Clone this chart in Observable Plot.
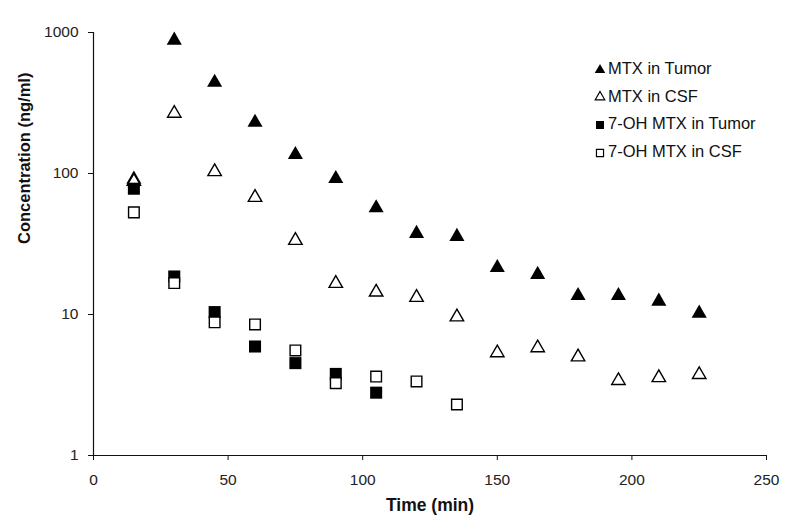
<!DOCTYPE html>
<html><head><meta charset="utf-8">
<script src="https://cdn.jsdelivr.net/npm/d3@7"></script>
<script src="https://cdn.jsdelivr.net/npm/@observablehq/plot@0.6"></script>
<style>
body{margin:0;background:#fff;}
#wrap{position:relative;width:800px;height:525px;font-family:"Liberation Sans",Arial,sans-serif;}
#legend{position:absolute;left:594px;top:55px;font-size:16.5px;color:#111;}
.item{display:flex;align-items:center;height:27.6px;}
.item svg{margin-right:2px;}
</style></head>
<body><div id="wrap"><div id="legend"></div></div>
<script>
// Data
const seriesNames = ["MTX in Tumor", "MTX in CSF", "7-OH MTX in Tumor", "7-OH MTX in CSF"];
const timesMTX = [15, 30, 45, 60, 75, 90, 105, 120, 135, 150, 165, 180, 195, 210, 225];
const mtxTumor = [91, 880, 442, 230, 136, 92, 57, 37.5, 35.7, 21.5, 19.2, 13.6, 13.6, 12.4, 10.2];
const mtxCSF = [88, 267, 103, 67.6, 33.5, 16.6, 14.4, 13.2, 9.6, 5.35, 5.8, 5.0, 3.4, 3.56, 3.75];
const times7OHTumor = [15, 30, 45, 60, 75, 90, 105];
const ohTumor = [78, 18.6, 10.4, 5.93, 4.52, 3.79, 2.79];
const times7OHCSF = [15, 30, 45, 60, 75, 90, 105, 120, 135];
const ohCSF = [53, 16.7, 8.8, 8.5, 5.56, 3.26, 3.63, 3.35, 2.3];
const xTicks = [0, 50, 100, 150, 200, 250];
const yTicks = [1, 10, 100, 1000];

const toRows = (ts, vs) => ts.map((t, i) => ({t, v: vs[i]}));
const dTumor = toRows(timesMTX, mtxTumor);
const dCSF = toRows(timesMTX, mtxCSF);
const dOHTumor = toRows(times7OHTumor, ohTumor);
const dOHCSF = toRows(times7OHCSF, ohCSF);

const font = '"Liberation Sans", Arial, sans-serif';
const chart = Plot.plot({
  width: 800, height: 525,
  marginLeft: 93, marginRight: 34, marginTop: 32, marginBottom: 70,
  style: {fontFamily: font, fontSize: "15.5px", background: "#fff", color: "#111"},
  x: {domain: [0, 250]},
  y: {type: "log", domain: [1, 1000]},
  marks: [
    Plot.axisX({ticks: xTicks, tickSize: 5, tickPadding: 13, tickFormat: d3.format("d"), label: null, fill: "#222"}),
    Plot.axisY({ticks: yTicks, tickSize: 5, tickPadding: 10, tickFormat: d3.format("d"), label: null, fill: "#222"}),
    Plot.ruleX([0], {stroke: "#111", strokeWidth: 1.2}),
    Plot.ruleY([1], {stroke: "#111", strokeWidth: 1.2}),
    Plot.dot(dTumor, {x: "t", y: "v", symbol: "triangle", r: 5.6, fill: "#000", stroke: "none"}),
    Plot.dot(dCSF, {x: "t", y: "v", symbol: "triangle", r: 5.0, fill: "#fff", stroke: "#000", strokeWidth: 1.4}),
    Plot.dot(dOHTumor, {x: "t", y: "v", symbol: "square", r: 6.8, fill: "#000", stroke: "none"}),
    Plot.dot(dOHCSF, {x: "t", y: "v", symbol: "square", r: 6.0, fill: "#fff", stroke: "#000", strokeWidth: 1.4}),
    Plot.text(["Time (min)"], {frameAnchor: "bottom", dy: 55, fontWeight: "bold", fontSize: 17.5, fill: "#111"}),
    Plot.text(["Concentration (ng/ml)"], {frameAnchor: "left", dx: -69, rotate: -90, fontWeight: "bold", fontSize: 16.5, fill: "#111"})
  ]
});
const wrap = document.getElementById("wrap");
wrap.insertBefore(chart, wrap.firstChild);

// Legend
const legendStyles = [
  {sym: d3.symbolTriangle, fill: "#000", stroke: "none", size: 48},
  {sym: d3.symbolTriangle, fill: "#fff", stroke: "#000", size: 40},
  {sym: d3.symbolSquare, fill: "#000", stroke: "none", size: 64},
  {sym: d3.symbolSquare, fill: "#fff", stroke: "#000", size: 50}
];
const legend = d3.select("#legend");
seriesNames.forEach((name, i) => {
  const s = legendStyles[i];
  const item = legend.append("div").attr("class", "item");
  const svg = item.append("svg").attr("width", 12).attr("height", 14);
  svg.append("path").attr("transform", "translate(6,8)")
    .attr("d", d3.symbol(s.sym, s.size)())
    .attr("fill", s.fill).attr("stroke", s.stroke).attr("stroke-width", 1.2);
  item.append("span").text(name);
});
</script>
</body></html>
